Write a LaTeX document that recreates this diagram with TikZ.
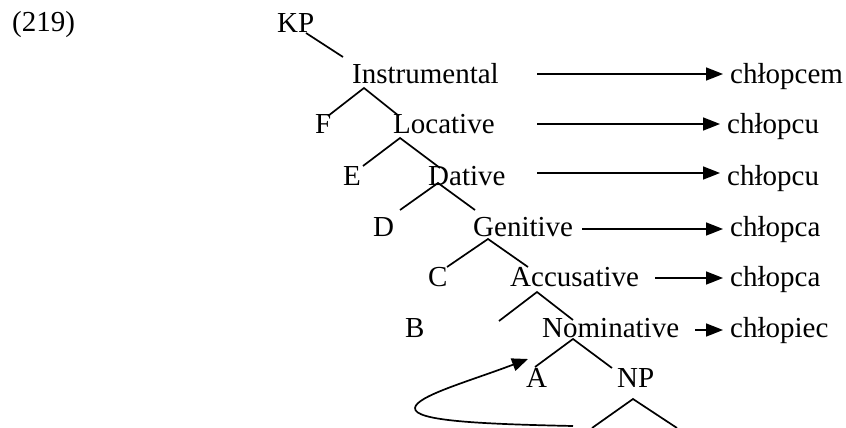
\documentclass[tikz,border=0pt]{standalone}
\usepackage{fontspec}
\setmainfont{Liberation Serif}
\usetikzlibrary{arrows.meta}
\begin{document}
\begin{tikzpicture}[x=1pt,y=-1pt,
  lbl/.style={anchor=base west, inner sep=0pt, font=\fontsize{29}{34}\selectfont},
  outw/.style={lbl, inner xsep=7pt},
  br/.style={line width=1.7pt, line join=miter},
  arr/.style={line width=1.7pt, -{Triangle[length=17pt,width=13pt]}}]
\useasboundingbox (0,0) rectangle (846,428);
% tree labels
\node[lbl] (num) at (12,32) {(219)};
\node[lbl] (kp) at (277,33) {KP};
\node[lbl] (ins) at (352,83) {Instrumental};
\node[lbl] (f) at (315,133) {F};
\node[lbl] (loc) at (393,133) {Locative};
\node[lbl] (e) at (343,185) {E};
\node[lbl] (dat) at (428,185) {Dative};
\node[lbl] (d) at (373,236) {D};
\node[lbl] (gen) at (473,236) {Genitive};
\node[lbl] (c) at (428,286) {C};
\node[lbl] (acc) at (510,286) {Accusative};
\node[lbl] (b) at (405,337) {B};
\node[lbl] (nom) at (542,337) {Nominative};
\node[lbl] (a) at (526,387) {A};
\node[lbl] (np) at (617,387) {NP};
% output forms
\node[outw] (r1) at (723,83) {chłopcem};
\node[outw] (r2) at (720,133) {chłopcu};
\node[outw] (r3) at (720,185) {chłopcu};
\node[outw] (r4) at (723,236) {chłopca};
\node[outw] (r5) at (723,286) {chłopca};
\node[outw] (r6) at (723,337) {chłopiec};
% arrow starts
\coordinate (s1) at (537,74);
\coordinate (s2) at (537,124);
\coordinate (s3) at (537,173);
\coordinate (s4) at (582,229);
\coordinate (s5) at (655,278);
\coordinate (s6) at (695,330);
\draw[arr] (s1) -- (r1.west |- s1);
\draw[arr] (s2) -- (r2.west |- s2);
\draw[arr] (s3) -- (r3.west |- s3);
\draw[arr] (s4) -- (r4.west |- s4);
\draw[arr] (s5) -- (r5.west |- s5);
\draw[arr] (s6) -- (r6.west |- s6);
% branches
\coordinate (kp1) at (306,33); \coordinate (kp2) at (343,57);
\draw[br] (kp1) -- (kp2);
\coordinate (i1) at (328,116); \coordinate (i0) at (364,88); \coordinate (i2) at (399,116);
\draw[br] (i1) -- (i0) -- (i2);
\coordinate (l1) at (363,166); \coordinate (l0) at (400,138); \coordinate (l2) at (440,168);
\draw[br] (l1) -- (l0) -- (l2);
\coordinate (d1) at (400,210); \coordinate (d0) at (438,183); \coordinate (d2) at (475,210);
\draw[br] (d1) -- (d0) -- (d2);
\coordinate (g1) at (447,267); \coordinate (g0) at (488,239); \coordinate (g2) at (528,267);
\draw[br] (g1) -- (g0) -- (g2);
\coordinate (a1) at (499,321); \coordinate (a0) at (537,292); \coordinate (a2) at (573,320);
\draw[br] (a1) -- (a0) -- (a2);
\coordinate (n1) at (535,367); \coordinate (n0) at (573,339); \coordinate (n2) at (612,368);
\draw[br] (n1) -- (n0) -- (n2);
\coordinate (p1) at (592,428); \coordinate (p0) at (633,399); \coordinate (p2) at (677,428);
\draw[br] (p1) -- (p0) -- (p2);
% movement arrow
\coordinate (m0) at (573,426);
\coordinate (m1) at (415,408);
\coordinate (mt) at (528,359);
\draw[line width=1.7pt, -{Triangle[length=16pt,width=13pt]}]
  (m0) .. controls (480,424) and (414,421) .. (m1)
  .. controls (416,396) and (470,381) .. (mt);
\end{tikzpicture}
\end{document}
